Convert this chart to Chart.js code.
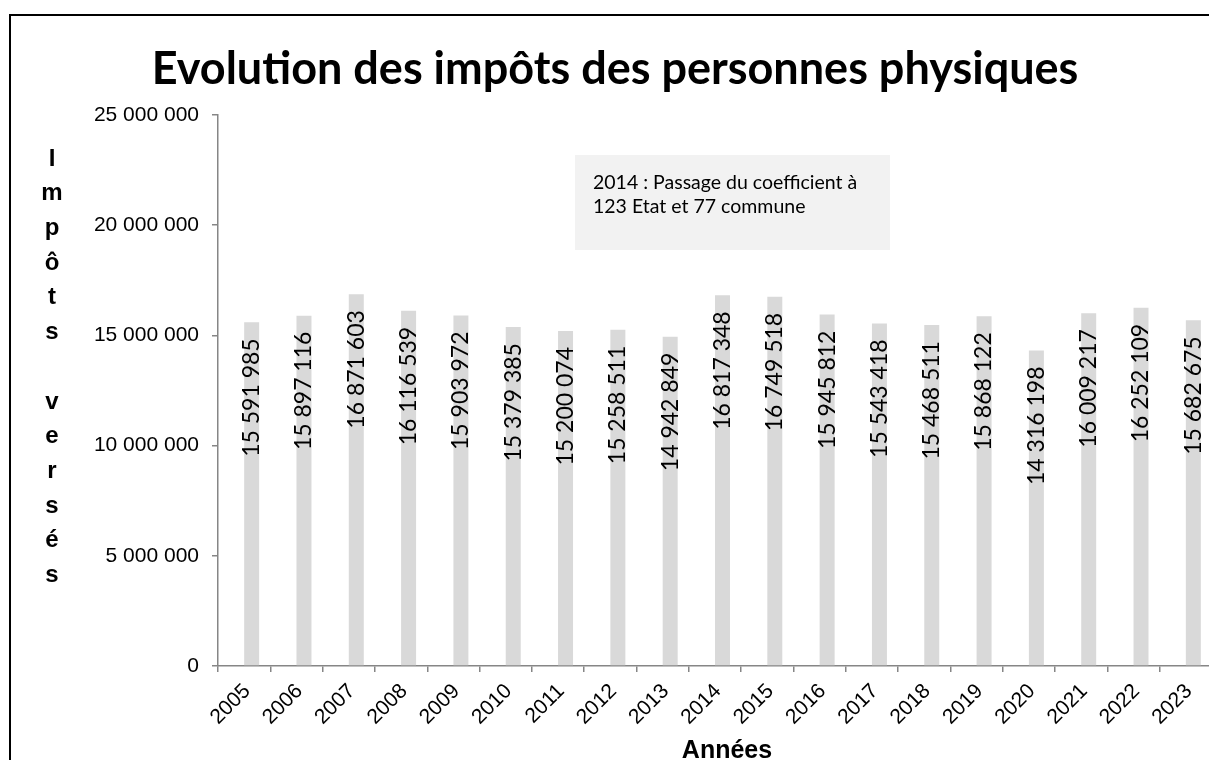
<!DOCTYPE html>
<html>
<head>
<meta charset="utf-8">
<script src="https://cdn.jsdelivr.net/npm/chart.js@4.4.1/dist/chart.umd.min.js"></script>
<style>
  html, body { margin: 0; padding: 0; background: #fff; overflow: hidden; width: 1209px; height: 760px; }
  #frame { position: absolute; left: 9px; top: 14px; width: 1300px; height: 900px; border: 2px solid #000; box-sizing: border-box; }
  #wrap { position: absolute; left: 0; top: 0; width: 1230px; height: 760px; }
</style>
</head>
<body>
<div id="frame"></div>
<div id="wrap"><canvas id="c" width="1230" height="760"></canvas></div>
<script>
const categories = ['2005','2006','2007','2008','2009','2010','2011','2012','2013','2014','2015','2016','2017','2018','2019','2020','2021','2022','2023'];
const impots = [15591985, 15897116, 16871603, 16116539, 15903972, 15379385, 15200074, 15258511, 14942849, 16817348, 16749518, 15945812, 15543418, 15468511, 15868122, 14316198, 16009217, 16252109, 15682675];
const yTicks = [0, 5000000, 10000000, 15000000, 20000000, 25000000];
const titleText = 'Evolution des impôts des personnes physiques';
const yTitle = 'Impôts versés';
const xTitle = 'Années';
const noteLines = ['2014 : Passage du coefficient à', '123 Etat et 77 commune'];

const fmt = n => String(n).replace(/\B(?=(\d{3})+(?!\d))/g, ' ');

const extras = {
  id: 'extras',
  afterDraw(chart) {
    const ctx = chart.ctx;
    const ca = chart.chartArea;
    // data labels
    const meta = chart.getDatasetMeta(1);
    ctx.save();
    ctx.fillStyle = '#000';
    ctx.font = '23px Lato';
    ctx.textAlign = 'right';
    ctx.textBaseline = 'middle';
    meta.data.forEach((bar, i) => {
      ctx.save();
      ctx.translate(bar.x, bar.y + 16);
      ctx.rotate(-Math.PI / 2);
      ctx.fillText(fmt(impots[i]), 0, 0);
      ctx.restore();
    });
    ctx.restore();

    // y title stacked letters
    ctx.save();
    ctx.fillStyle = '#000';
    ctx.font = 'bold 24px "Liberation Sans", Arial';
    ctx.textAlign = 'center';
    ctx.textBaseline = 'middle';
    const letters = Array.from(yTitle);
    letters.forEach((ch, i) => {
      ctx.fillText(ch, ca.left - 166, ca.top + 44 + i * 34.7);
    });
    ctx.restore();

    // x title
    ctx.save();
    ctx.fillStyle = '#000';
    ctx.font = 'bold 25px "Liberation Sans", Arial';
    ctx.textAlign = 'center';
    ctx.textBaseline = 'middle';
    ctx.fillText(xTitle, (ca.left + ca.right) / 2 + 12, ca.bottom + 85);
    ctx.restore();

    // note box
    ctx.save();
    ctx.fillStyle = '#f2f2f2';
    const bx = ca.left + 357, by = ca.top + 40;
    ctx.fillRect(bx, by, 315, 95);
    ctx.fillStyle = '#000';
    ctx.font = '19.5px Lato';
    ctx.textAlign = 'left';
    ctx.textBaseline = 'middle';
    noteLines.forEach((t, i) => ctx.fillText(t, bx + 18, by + 28 + i * 23.5));
    ctx.restore();
  }
};

new Chart(document.getElementById('c'), {
  type: 'bar',
  data: {
    labels: categories,
    datasets: [
      { label: '', data: categories.map(() => null), backgroundColor: 'rgba(0,0,0,0)' },
      { label: 'Impôts versés', data: impots, backgroundColor: '#d9d9d9', borderWidth: 0 }
    ]
  },
  options: {
    responsive: false,
    animation: false,
    events: [],
    datasets: { bar: { categoryPercentage: 0.573, barPercentage: 1.0 } },
    layout: { padding: { left: 18, right: 18, top: 0, bottom: 0 } },
    plugins: {
      legend: { display: false },
      tooltip: { enabled: false },
      title: {
        display: true,
        text: titleText,
        color: '#000',
        font: { family: 'Lato', size: 45, weight: 'bold', lineHeight: 1.2 },
        padding: { top: 42, bottom: 19 }
      }
    },
    scales: {
      x: {
        afterFit(s) { s.height = 94; },
        grid: { display: true, offset: true, drawOnChartArea: false, drawTicks: true, tickLength: 6, color: '#868686', lineWidth: 1.5 },
        border: { display: true, color: '#868686', width: 1.5 },
        ticks: { color: '#000', font: { family: 'Liberation Sans', size: 21 }, minRotation: 45, maxRotation: 45, autoSkip: false, padding: 7, labelOffset: 3 }
      },
      y: {
        min: 0, max: 25000000,
        afterFit(s) { s.width = 200; },
        afterBuildTicks(s) { s.ticks = yTicks.map(v => ({ value: v })); },
        grid: { display: true, drawOnChartArea: false, drawTicks: true, tickLength: 6, color: '#868686', lineWidth: 1.5 },
        border: { display: true, color: '#868686', width: 1.5 },
        ticks: { color: '#000', font: { family: 'Liberation Sans', size: 21 }, padding: 13, callback: v => fmt(v) }
      }
    }
  },
  plugins: [extras]
});
</script>
</body>
</html>
